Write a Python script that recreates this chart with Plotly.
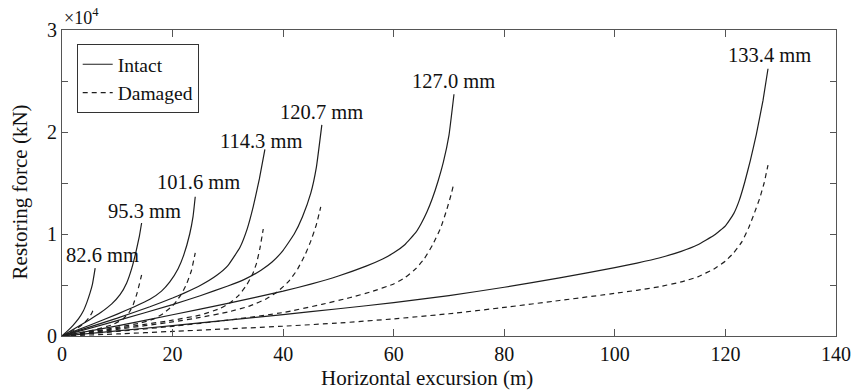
import plotly.graph_objects as go

# ---- data (horizontal excursion in m, restoring force in kN) ----
labels = ["82.6 mm", "95.3 mm", "101.6 mm", "114.3 mm", "120.7 mm", "127.0 mm", "133.4 mm"]

x_int_826 = [0, 1, 2, 3, 3.85, 4.5, 5.06, 5.5, 6.0]
f_int_826 = [0, 500, 1050, 1700, 2450, 3300, 4200, 5050, 6650]
x_dam_826 = [0, 1, 2, 3, 4, 4.8, 5.4, 5.85]
f_dam_826 = [0, 250, 530, 850, 1250, 1750, 2250, 2850]

x_int_953 = [0, 3, 5, 7, 9, 10.5, 11.7, 12.6, 13.4, 14, 14.4]
f_int_953 = [0, 950, 1600, 2300, 3150, 4050, 5200, 6600, 8300, 9800, 11080]
x_dam_953 = [0, 3, 6, 9, 11, 12.2, 12.9, 13.6, 14.4]
f_dam_953 = [0, 280, 620, 1080, 1650, 2350, 3100, 4250, 5980]

x_int_1016 = [0, 5, 10, 13, 15.9, 18, 19.5, 21, 22, 23.1, 23.7, 24.1]
f_int_1016 = [0, 1050, 2150, 2850, 3600, 4400, 5300, 6600, 7900, 10000, 11700, 13650]
x_dam_1016 = [0, 5, 10, 14, 16.5, 18.3, 20, 20.7, 21.7, 22.5, 23.4, 24.1]
f_dam_1016 = [0, 400, 850, 1250, 1650, 2200, 2950, 3400, 4200, 5050, 6400, 8140]

x_int_1143 = [0, 10, 15.9, 20, 22, 25, 28, 30, 32.2, 33.5, 34.6, 35.7, 36.7]
f_int_1143 = [0, 1750, 2870, 3720, 4180, 4950, 5950, 6900, 8700, 10500, 12700, 15400, 18300]
x_dam_1143 = [0, 10, 20, 25, 28.6, 30.4, 32, 33.4, 34.5, 35.2, 35.8, 36.4]
f_dam_1143 = [0, 750, 1550, 2050, 2700, 3250, 4000, 5000, 6100, 7150, 8600, 10490]

x_int_1207 = [0, 10, 20, 25, 30, 33, 36, 38, 40, 42, 43.5, 45, 46, 47]
f_int_1207 = [0, 1500, 3080, 3950, 4900, 5550, 6450, 7250, 8400, 10000, 11700, 14000, 16500, 20700]
x_dam_1207 = [0, 10, 20, 25, 30, 34, 37, 39, 41, 42.5, 44, 45, 46, 46.8]
f_dam_1207 = [0, 650, 1380, 1820, 2350, 2950, 3650, 4350, 5350, 6450, 8000, 9300, 10900, 12650]

x_int_1270 = [0, 10, 20, 30, 40, 45, 50, 55, 58, 60, 62, 64, 65, 66, 67, 68, 69, 70, 70.9]
f_int_1270 = [0, 1000, 2080, 3200, 4400, 5080, 5880, 6850, 7550, 8150, 8950, 10150, 11050, 12150,
              13500, 15150, 17100, 19700, 23700]
x_dam_1270 = [0, 10, 20, 30, 40, 47, 52, 56, 60, 62, 64, 65.5, 67, 68.5, 69.6, 70.4, 70.9]
f_dam_1270 = [0, 450, 950, 1550, 2300, 3100, 3750, 4350, 5100, 5700, 6600, 7550, 8900, 10600,
              12400, 13900, 15030]

x_int_1334 = [0, 10, 20, 30, 40, 50, 60, 70, 80, 90, 100, 104, 108, 112, 115, 118, 120, 121.5,
              122.5, 123.5, 124.5, 125.6, 126.8, 127.7]
f_int_1334 = [0, 500, 1020, 1550, 2100, 2670, 3270, 3960, 4780, 5700, 6700, 7150, 7650, 8300,
              8950, 9900, 10800, 12000, 13300, 15100, 17200, 19800, 23100, 26200]
x_dam_1334 = [0, 10, 20, 30, 40, 50, 60, 70, 80, 90, 100, 104, 108, 112, 115, 118, 120, 121.5,
              123, 124.2, 125.2, 126.2, 127, 127.7]
f_dam_1334 = [0, 200, 450, 700, 960, 1270, 1680, 2180, 2800, 3480, 4180, 4480, 4830, 5300,
              5800, 6600, 7350, 8150, 9250, 10600, 12000, 13500, 15000, 16760]

# label anchor positions (data coords)
label_x = [7.4, 15.0, 24.6, 36.0, 47.0, 70.8, 127.9]
label_y = [7940, 12250, 15100, 19100, 21960, 25000, 27550]

x_ticks = [0, 20, 40, 60, 80, 100, 120, 140]
y_tickvals = [0, 10000, 20000, 30000]
y_ticktext = ["0", "1", "2", "3"]

intact = [(x_int_826, f_int_826), (x_int_953, f_int_953), (x_int_1016, f_int_1016),
          (x_int_1143, f_int_1143), (x_int_1207, f_int_1207), (x_int_1270, f_int_1270),
          (x_int_1334, f_int_1334)]
damaged = [(x_dam_826, f_dam_826), (x_dam_953, f_dam_953), (x_dam_1016, f_dam_1016),
           (x_dam_1143, f_dam_1143), (x_dam_1207, f_dam_1207), (x_dam_1270, f_dam_1270),
           (x_dam_1334, f_dam_1334)]

FONT = "Liberation Serif, Times New Roman, serif"
LC = "#1e1e1e"
TC = "#111"

fig = go.Figure()
for i, (xs, fs) in enumerate(intact):
    fig.add_trace(go.Scatter(x=xs, y=fs, mode="lines", name="Intact", legendgroup="i",
                             showlegend=(i == 0),
                             line=dict(color=LC, width=1.2, shape="spline", smoothing=0.35)))
for i, (xs, fs) in enumerate(damaged):
    fig.add_trace(go.Scatter(x=xs, y=fs, mode="lines", name="Damaged", legendgroup="d",
                             showlegend=(i == 0),
                             line=dict(color=LC, width=1.2, dash="5px,4px", shape="spline",
                                       smoothing=0.35)))

for t, lx, ly in zip(labels, label_x, label_y):
    fig.add_annotation(x=lx, y=ly, text=t, showarrow=False, xanchor="center", yanchor="middle",
                       font=dict(family=FONT, size=20.5, color=TC))

fig.add_annotation(xref="paper", yref="paper", x=0, y=1, text="×10<sup>4</sup>", showarrow=False,
                   xanchor="left", yanchor="bottom", yshift=0,
                   font=dict(family=FONT, size=18, color=TC))

# axis titles
fig.add_annotation(xref="paper", yref="paper", x=0.472, y=-0.137, text="Horizontal excursion (m)",
                   showarrow=False, xanchor="center", yanchor="middle",
                   font=dict(family=FONT, size=21, color=TC))
fig.add_annotation(xref="paper", yref="paper", x=-0.054, y=0.47, text="Restoring force (kN)",
                   textangle=-90, showarrow=False, xanchor="center", yanchor="middle",
                   font=dict(family=FONT, size=21, color=TC))

axis_common = dict(showline=True, linecolor="#555", linewidth=1, mirror="ticks",
                   ticks="inside", tickcolor="#555", showgrid=False, zeroline=False,
                   automargin=False,
                   tickfont=dict(family=FONT, size=20, color=TC))

fig.update_layout(
    width=856, height=390,
    margin=dict(l=62, r=20, t=30, b=54),
    paper_bgcolor="white", plot_bgcolor="white",
    font=dict(family=FONT, size=20, color=TC),
    showlegend=True,
    legend=dict(x=0.019, y=0.954, xanchor="left", yanchor="top",
                bordercolor="#333", borderwidth=1, bgcolor="white",
                itemwidth=30, tracegroupgap=0,
                font=dict(family=FONT, size=19.5, color=TC)),
    xaxis=dict(range=[0, 140], tickvals=x_ticks, ticklen=7, **axis_common),
    yaxis=dict(range=[0, 30000], tickvals=y_tickvals, ticktext=y_ticktext, ticklen=6,
               minor=dict(dtick=5000, tick0=0, ticks="inside", ticklen=6, tickcolor="#555"),
               **axis_common),
)

fig.write_html("out.html")
